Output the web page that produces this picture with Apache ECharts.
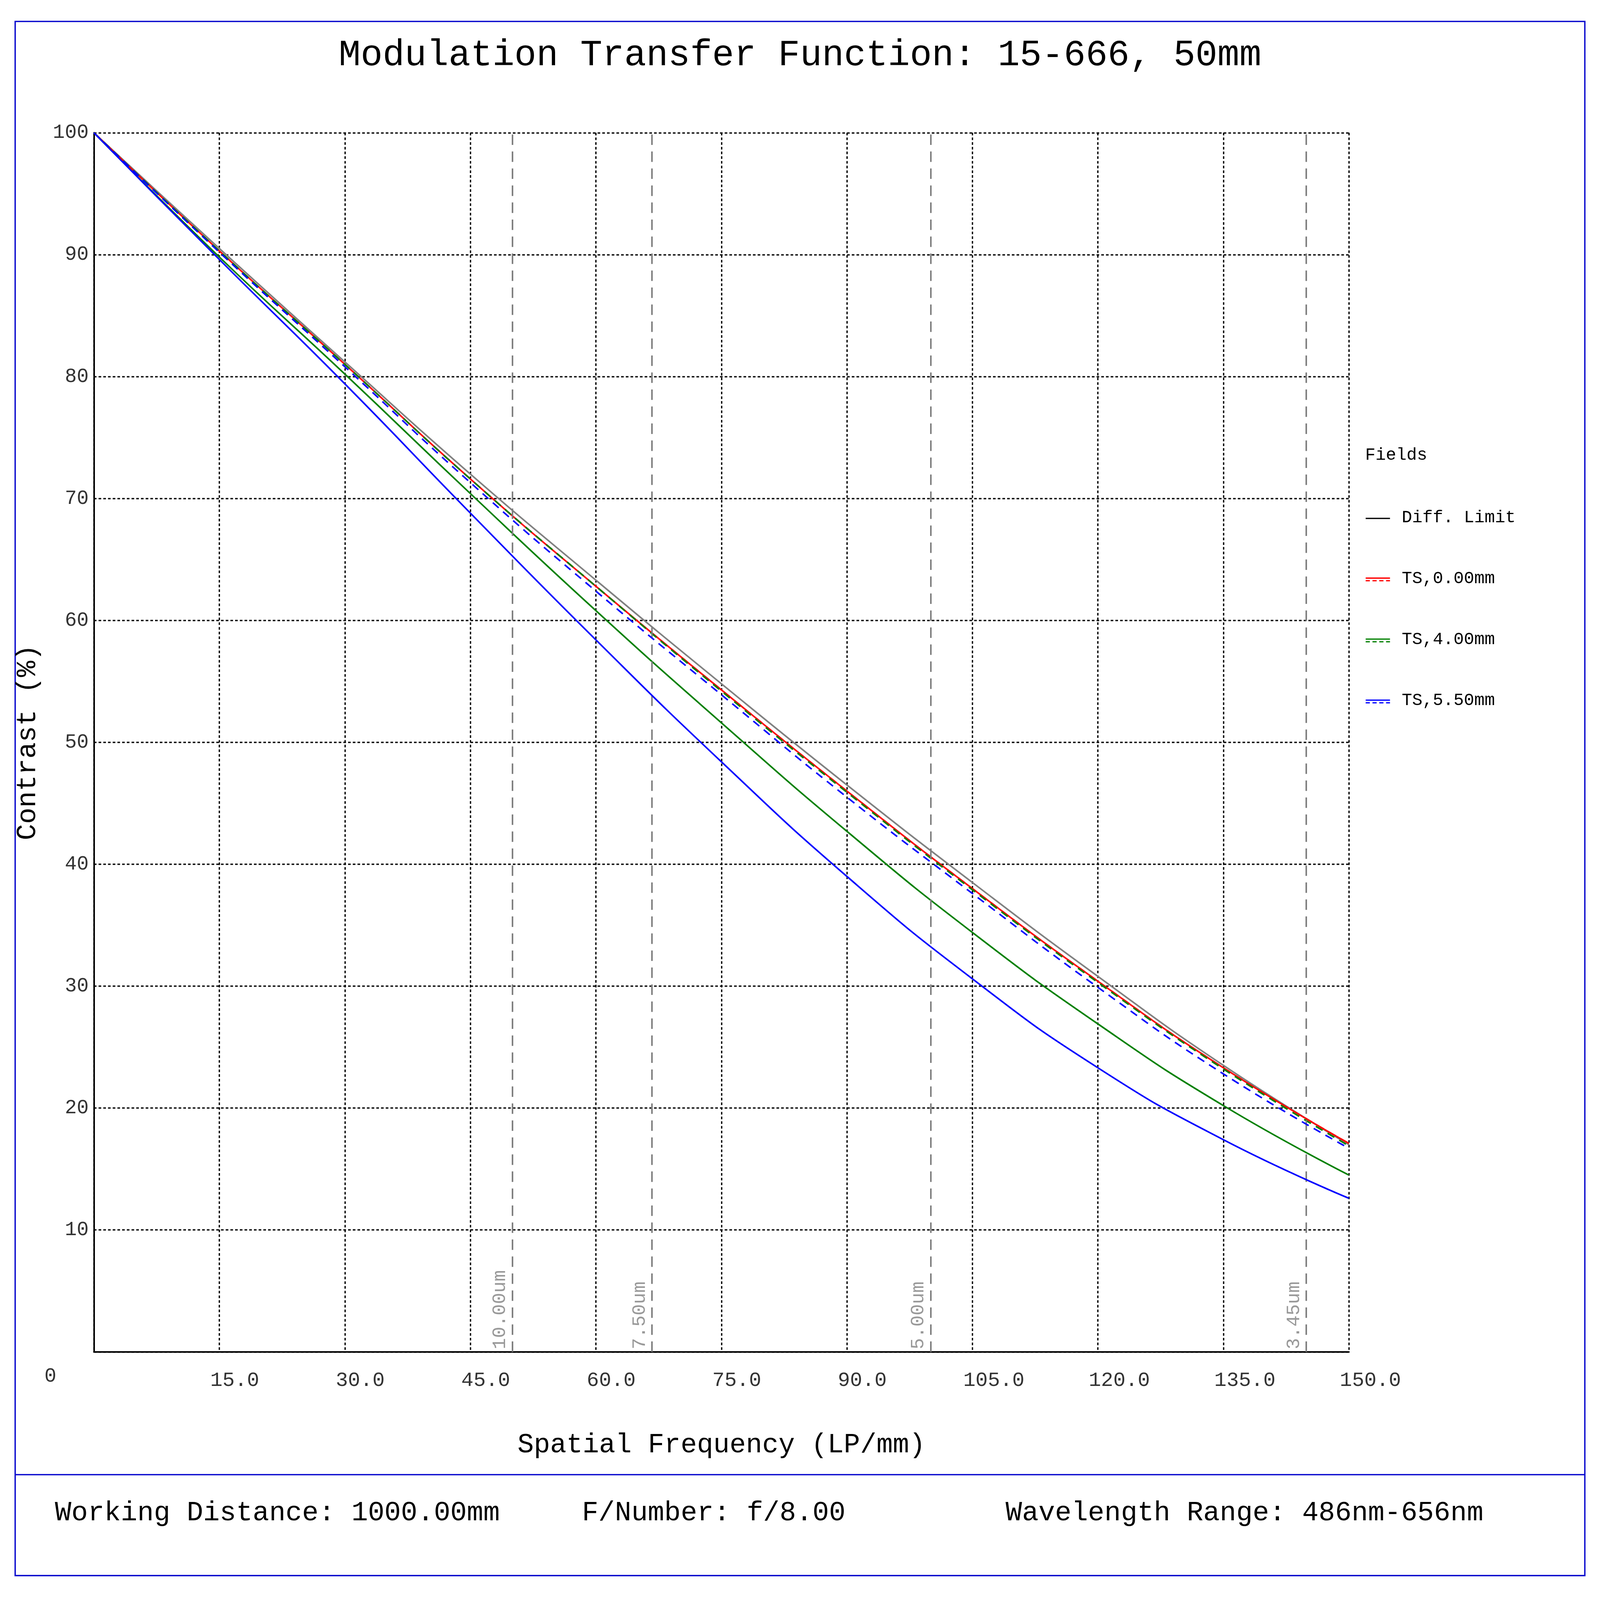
<!DOCTYPE html>
<html><head><meta charset="utf-8">
<script src="https://cdn.jsdelivr.net/npm/echarts@6/dist/echarts.min.js"></script>
<style>html,body{margin:0;padding:0;background:#fff;overflow:hidden}#c{width:100vw;height:100vh}</style>
</head><body><div id="c"></div>
<script>
const freq = [0, 15, 30, 45, 60, 75, 90, 105, 120, 135, 150];
const diffLimit = [100, 90.5, 81.2, 72.0, 63.3, 54.8, 46.5, 38.5, 30.8, 23.5, 17.0];
const ts000T = [100, 90.3, 81.0, 71.6, 62.8, 54.3, 46.0, 38.0, 30.4, 23.3, 17.1];
const ts000S = [100, 90.3, 81.0, 71.6, 62.8, 54.3, 46.0, 38.0, 30.4, 23.3, 17.1];
const ts400T = [100, 89.8, 80.2, 70.4, 60.8, 51.6, 42.7, 34.4, 26.9, 20.2, 14.5];
const ts400S = [100, 90.3, 81.0, 71.6, 62.8, 54.2, 45.9, 37.9, 30.3, 23.2, 16.9];
const ts550T = [100, 89.6, 79.4, 68.8, 58.4, 48.4, 39.0, 30.6, 23.3, 17.4, 12.6];
const ts550S = [100, 90.2, 80.8, 71.3, 62.4, 53.9, 45.5, 37.6, 29.9, 22.8, 16.7];
const pixelFreqs = [50, 66.7, 100, 144.9];
const pixelLabels = ['10.00um', '7.50um', '5.00um', '3.45um'];
const legendNames = ['Diff. Limit', 'TS,0.00mm', 'TS,4.00mm', 'TS,5.50mm'];
const legendColors = ['#000', '#ff0000', '#008000', '#0000ff'];

const W = window.innerWidth, H = window.innerHeight;
const sx = W / 6118, sy = H / 4327, s = Math.min(sx, sy * 1.1);
const X = v => v * sx, Y = v => v * sy, P = v => v * s;
const F = 'Liberation Mono';
const font = n => P(n) + 'px "Liberation Mono"';
const pts = a => freq.map((f, i) => [f, a[i]]);
function line(name, data, color, dashed, z) {
  return { name, type: 'line', data: pts(data), smooth: true, showSymbol: false, z: z,
    lineStyle: { color, width: P(6), type: dashed ? [P(30), P(22)] : 'solid' } };
}
const series = [
  line('Diff. Limit', diffLimit, '#808080', false, 2),
  line('TS,0.00mm T', ts000T, '#ff0000', false, 3),
  line('TS,0.00mm S', ts000S, '#ff0000', true, 3),
  line('TS,4.00mm T', ts400T, '#008000', false, 4),
  line('TS,4.00mm S', ts400S, '#008000', true, 4),
  line('TS,5.50mm T', ts550T, '#0000ff', false, 5),
  line('TS,5.50mm S', ts550S, '#0000ff', true, 5),
];
series.push({ type: 'line', data: [], z: 1,
  markLine: { silent: true, symbol: 'none',
    lineStyle: { color: '#808080', width: P(6), type: [P(40), P(25)] },
    label: { show: true, position: 'insideStartTop', color: '#999', fontFamily: F, fontSize: P(72), distance: P(10),
      formatter: p => p.name },
    data: pixelFreqs.map((f, i) => ({ xAxis: f, name: pixelLabels[i] })) } });

const graphics = [
  { type: 'rect', shape: { x: X(58), y: Y(58), width: X(6002), height: Y(4203) }, style: { fill: 'none', stroke: '#0000cc', lineWidth: P(5) } },
  { type: 'line', shape: { x1: X(58), y1: Y(3988), x2: X(6060), y2: Y(3988) }, style: { stroke: '#0000cc', lineWidth: P(5) } },
  { type: 'text', left: X(210), top: Y(4055), style: { text: 'Working Distance: 1000.00mm', font: font(105), fill: '#000' } },
  { type: 'text', left: X(2225), top: Y(4055), style: { text: 'F/Number: f/8.00', font: font(105), fill: '#000' } },
  { type: 'text', left: X(3845), top: Y(4055), style: { text: 'Wavelength Range: 486nm-656nm', font: font(105), fill: '#000' } },
  { type: 'text', left: X(5220), top: Y(1208), style: { text: 'Fields', font: font(66), fill: '#000' } },
  { type: 'text', left: X(170), top: Y(3695), style: { text: '0', font: font(76), fill: '#333' } },
];
legendNames.forEach((n, i) => {
  const y = Y(1402 + i * 165);
  const d = i ? P(5) : 0;
  graphics.push({ type: 'line', shape: { x1: X(5222), y1: y - d, x2: X(5315), y2: y - d }, style: { stroke: legendColors[i], lineWidth: P(5) } });
  if (i) graphics.push({ type: 'line', shape: { x1: X(5222), y1: y + d, x2: X(5315), y2: y + d }, style: { stroke: legendColors[i], lineWidth: P(5), lineDash: [P(16), P(10)] } });
  graphics.push({ type: 'text', left: X(5360), top: y - P(36), style: { text: n, font: font(66), fill: '#000' } });
});

const chart = echarts.init(document.getElementById('c'));
chart.setOption({
  animation: false,
  title: { text: 'Modulation Transfer Function: 15-666, 50mm', left: 'center', top: Y(95),
    textStyle: { fontFamily: F, fontSize: P(140), fontWeight: 'normal', color: '#000' } },
  grid: { left: X(359), right: X(6118 - 5158), top: Y(359), bottom: Y(4327 - 3656) },
  xAxis: { type: 'value', min: 0, max: 150, interval: 15,
    name: 'Spatial Frequency (LP/mm)', nameLocation: 'middle', nameGap: Y(215),
    nameTextStyle: { fontFamily: F, fontSize: P(104), color: '#000' },
    axisLine: { lineStyle: { color: '#000', width: P(6) } }, axisTick: { show: false },
    axisLabel: { fontFamily: F, fontSize: P(78), color: '#333', margin: Y(50), align: 'left', padding: [0, 0, 0, -P(35)],
      formatter: v => v === 0 ? '' : v.toFixed(1) },
    splitLine: { lineStyle: { color: '#000', width: P(5), type: [P(10), P(8)] } } },
  yAxis: { type: 'value', min: 0, max: 100, interval: 10,
    name: 'Contrast (%)', nameLocation: 'middle', nameGap: X(200),
    nameTextStyle: { fontFamily: F, fontSize: P(104), color: '#000' },
    axisLine: { lineStyle: { color: '#000', width: P(6) } }, axisTick: { show: false },
    axisLabel: { fontFamily: F, fontSize: P(76), color: '#333', margin: X(20), formatter: v => v === 0 ? '' : v },
    splitLine: { lineStyle: { color: '#000', width: P(5), type: [P(10), P(8)] } } },
  series,
  graphic: graphics
});
</script></body></html>
